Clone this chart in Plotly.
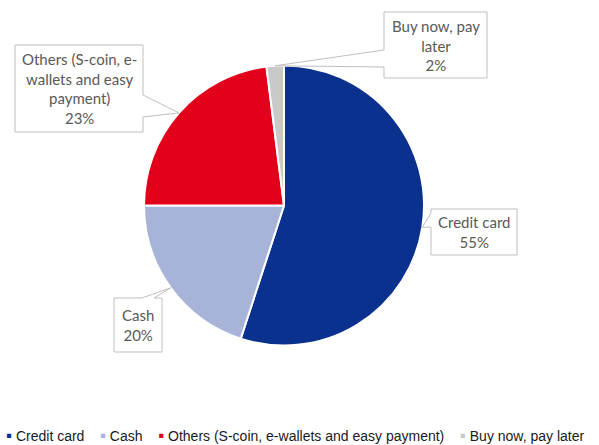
import math
import plotly.graph_objects as go

# Payment method shares (%)
labels = ["Credit card", "Cash", "Others (S-coin, e-wallets and easy payment)", "Buy now, pay later"]
shares = [55, 20, 23, 2]
colors = ["#0B318F", "#A8B3D8", "#E3001B", "#C9C9C9"]
# wrapped names used inside the callout boxes
callout_names = ["Credit card", "Cash", "Others (S-coin, e-<br>wallets and easy<br>payment)", "Buy now, pay<br>later"]

W, H = 599, 445
CX, CY, R = 284, 205.5, 140  # pie centre / radius in pixels

# callout boxes in pixels: x0, y0, x1, y1, side of the pointer, pointer base start/end
boxes = [
    (431, 209, 517, 255, "left", 213, 227),
    (114, 298, 162, 352, "top", 142, 154),
    (15, 45, 143, 132, "right", 95, 117),
    (384, 12, 487, 78, "left", 50, 67),
]


def px(x):
    return x / W


def py(y):
    return 1 - y / H


fig = go.Figure()
fig.add_trace(go.Pie(
    labels=labels,
    values=shares,
    sort=False,
    direction="clockwise",
    rotation=0,
    marker=dict(colors=colors, line=dict(color="white", width=2)),
    textinfo="none",
    hoverinfo="label+percent",
    showlegend=False,
    domain=dict(x=[px(CX - R), px(CX + R)], y=[py(CY + R), py(CY - R)]),
))

total = sum(shares)
cum = 0
shapes, annotations = [], []
for name, v, box in zip(callout_names, shares, boxes):
    theta = 2 * math.pi * (cum + v / 2) / total
    cum += v
    tx = CX + R * math.sin(theta)
    ty = CY - R * math.cos(theta)
    x0, y0, x1, y1, side, a, b = box
    pts = [(x0, y0)]
    if side == "top":
        pts += [(a, y0), (tx, ty), (b, y0)]
    pts.append((x1, y0))
    if side == "right":
        pts += [(x1, a), (tx, ty), (x1, b)]
    pts += [(x1, y1), (x0, y1)]
    if side == "left":
        pts += [(x0, b), (tx, ty), (x0, a)]
    path = "M " + " L ".join(f"{px(x):.5f},{py(y):.5f}" for x, y in pts) + " Z"
    shapes.append(dict(type="path", path=path, xref="paper", yref="paper",
                       fillcolor="white", line=dict(color="#BFBFBF", width=1), layer="above"))
    annotations.append(dict(
        x=px((x0 + x1) / 2), y=py((y0 + y1) / 2), xref="paper", yref="paper",
        xanchor="center", yanchor="middle", showarrow=False, align="center",
        text=f"{name}<br>{round(100 * v / total)}%",
        font=dict(family="Lato, sans-serif", size=15, color="#595959"),
    ))

# legend row along the bottom
legend_text = "&nbsp;&nbsp;&nbsp;&nbsp;".join(
    f'<span style="color:{c};font-size:17px">▪</span>&nbsp;{lab}' for lab, c in zip(labels, colors)
)
annotations.append(dict(
    x=px(295), y=py(435), xref="paper", yref="paper", xanchor="center", yanchor="middle",
    showarrow=False, text=legend_text,
    font=dict(family="Liberation Sans, Arial, sans-serif", size=14, color="#1A1A1A"),
))

fig.update_layout(
    width=W, height=H,
    margin=dict(l=0, r=0, t=0, b=0),
    paper_bgcolor="white", plot_bgcolor="white",
    shapes=shapes, annotations=annotations,
)

fig.write_html("out.html")
